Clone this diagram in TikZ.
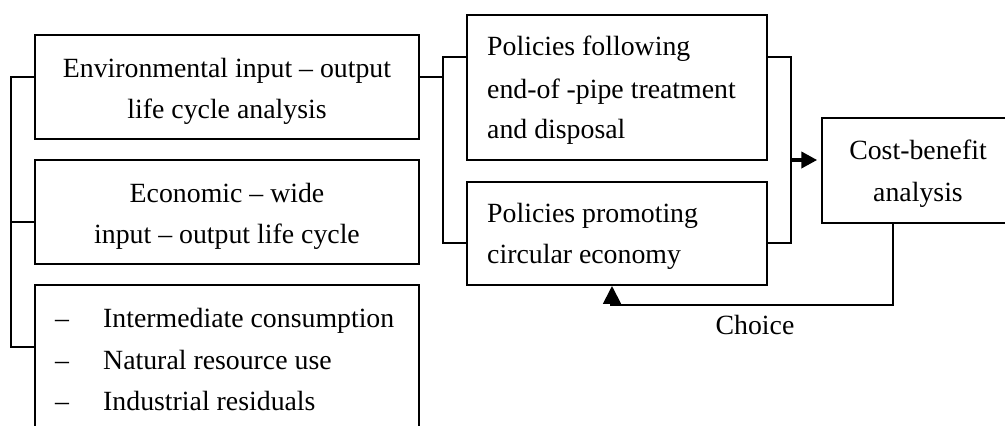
\documentclass[tikz,border=0pt]{standalone}
\usepackage{fontspec}
\setmainfont{Liberation Serif}
\usetikzlibrary{arrows.meta}
\begin{document}
\begin{tikzpicture}[x=1pt,y=-1pt,
  box/.style={draw,line width=1.5pt,rectangle,inner sep=0pt,minimum width=#1},
  txt/.style={inner sep=0pt,font=\fontsize{27.8}{33}\selectfont},
  conn/.style={line width=1.5pt},
  tipR/.style={-{Triangle[length=16pt,width=16pt]}},
  tipU/.style={-{Triangle[length=18pt,width=17pt]}}]
\useasboundingbox (0,0) rectangle (1005,426);
\clip (0,0) rectangle (1005,426);
% boxes
\node[box=384pt,minimum height=104pt] (env) at (227,87) {};
\node[box=384pt,minimum height=104pt] (eco) at (227,212) {};
\node[box=384pt,minimum height=200pt] (res) at (227,385) {};
\node[box=300pt,minimum height=145pt] (pol1) at (617,87.5) {};
\node[box=300pt,minimum height=103pt] (pol2) at (617,233.5) {};
\node[box=218pt,minimum height=105pt] (cost) at (931,170.5) {};
% texts
\node[txt,anchor=base] (t1a) at (227,77) {Environmental input – output};
\node[txt,anchor=base] (t1b) at (227,118) {life cycle analysis};
\node[txt,anchor=base] (t2a) at (227,202) {Economic – wide};
\node[txt,anchor=base] (t2b) at (227,243) {input – output life cycle};
\node[txt,anchor=base west] (d1) at (55,327) {–};
\node[txt,anchor=base west] (d2) at (55,369) {–};
\node[txt,anchor=base west] (d3) at (55,410) {–};
\node[txt,anchor=base west] (t3a) at (103,327) {Intermediate consumption};
\node[txt,anchor=base west] (t3b) at (103,369) {Natural resource use};
\node[txt,anchor=base west] (t3c) at (103,410) {Industrial residuals};
\node[txt,anchor=base west] (p1a) at (487,55) {Policies following};
\node[txt,anchor=base west] (p1b) at (487,98) {end-of -pipe treatment};
\node[txt,anchor=base west] (p1c) at (487,138) {and disposal};
\node[txt,anchor=base west] (p2a) at (487,222) {Policies promoting};
\node[txt,anchor=base west] (p2b) at (487,263) {circular economy};
\node[txt,anchor=base] (c1) at (918,159) {Cost-benefit};
\node[txt,anchor=base] (c2) at (918,201) {analysis};
\node[txt,anchor=base] (choice) at (755,334) {Choice};
% helper coordinates
\coordinate (L1) at (11,77);
\coordinate (L2) at (11,222);
\coordinate (L3) at (11,347);
\coordinate (M0) at (443,77);
\coordinate (M1) at (443,57);
\coordinate (M2) at (443,243);
\coordinate (R1) at (791,57);
\coordinate (R2) at (791,243);
\coordinate (RA) at (791,160);
\coordinate (F1) at (893,305);
\coordinate (F2) at (612,305);
% left bracket
\draw[conn] (env.west |- L1) -- (L1) -- (L3) -- (res.west |- L3);
\draw[conn] (eco.west |- L2) -- (L2);
% middle bracket
\draw[conn] (env.east |- M0) -- (M0);
\draw[conn] (pol1.west |- M1) -- (M1) -- (M2) -- (pol2.west |- M2);
% right bracket
\draw[conn] (pol1.east |- R1) -- (R1) -- (R2) -- (pol2.east |- R2);
\draw[line width=4pt,tipR,shorten >=4pt] (RA) -- (cost.west |- RA);
% feedback
\draw[conn] (cost.south -| F1) -- (F1) -- (F2);
\draw[line width=4pt,tipU] ([yshift=-0.75pt]F2) -- (pol2.south -| F2);
\end{tikzpicture}
\end{document}
